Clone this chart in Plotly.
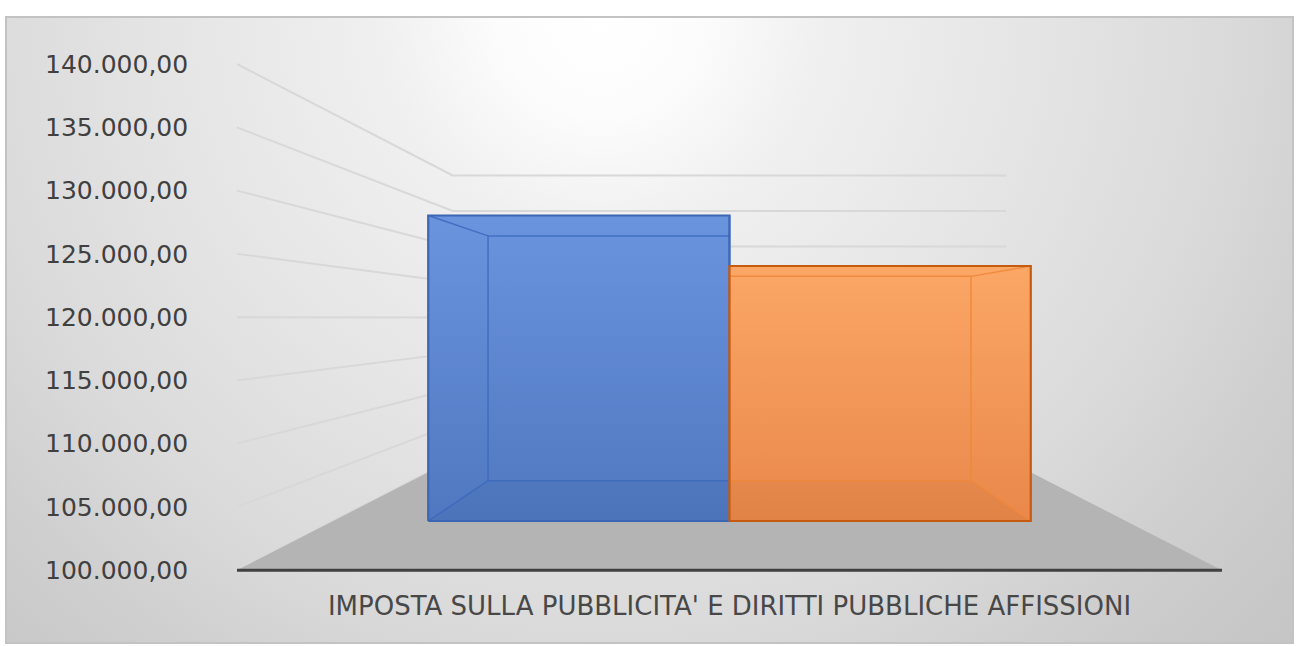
import numpy as np
import plotly.graph_objects as go

# ---------------- data ----------------
category = "IMPOSTA SULLA PUBBLICITA' E DIRITTI PUBBLICHE AFFISSIONI"
series_names = ["Serie 1", "Serie 2"]
series_values = [130000, 125040]
y_ticks = [100000, 105000, 110000, 115000, 120000, 125000, 130000, 135000, 140000]

# ---------------- styles ----------------
face_scales = [
    [[0, "#4f78c1"], [1, "#6a94dd"]],
    [[0, "#e9884a"], [1, "#fba765"]],
]
edge_colors = ["#3b66b4", "#c55a11"]
inner_colors = ["rgba(60,105,190,0.85)", "rgba(240,135,60,0.9)"]

Y_MIN, Y_MAX = y_ticks[0], y_ticks[-1]
VP_X, VP_V = 0.5, 119920.0          # vanishing point (front-plane coords)
BACK_SCALE = 0.562                   # scale of the back wall vs front plane
K = 1.0 / BACK_SCALE - 1.0
GROUP_GAP = 0.12
D_FRONT, D_BACK = 0.311, 0.706


def P(X, d, V):
    s = 1.0 / (1.0 + K * d)
    return VP_X + (X - VP_X) * s, VP_V + (V - VP_V) * s


def poly(points):
    xs = [p[0] for p in points] + [points[0][0]]
    ys = [p[1] for p in points] + [points[0][1]]
    return xs, ys


fig = go.Figure()

# ---------- background (full chart area, own axes) ----------
cx, cy, R = 600, 10, 1000
fig.add_trace(go.Scatter(
    x=[cx - R, cx + R, cx + R, cx - R, cx - R],
    y=[cy - R, cy - R, cy + R, cy + R, cy - R], mode="lines",
    line=dict(width=0), fill="toself",
    fillgradient=dict(type="radial", colorscale=[
        [0, "#ffffff"], [0.1, "#fcfcfc"], [0.215, "#f0f0f0"], [0.45, "#e4e4e4"],
        [0.63, "#dadada"], [0.765, "#cfcfcf"], [0.9, "#c7c7c7"], [1, "#c3c3c3"]]),
    hoverinfo="skip", showlegend=False, xaxis="x", yaxis="y"))

# ---------- walls gridlines ----------
gx, gy = [], []
for v in y_ticks:
    for X, d in [(0, 0), (0, 1), (1, 1)]:
        px, py = P(X, d, v)
        gx.append(px); gy.append(py)
    gx.append(None); gy.append(None)
fig.add_trace(go.Scatter(x=gx, y=gy, mode="lines",
                         line=dict(color="#d8d8d8", width=2),
                         hoverinfo="skip", showlegend=False, xaxis="x2", yaxis="y2"))

# ---------- floor ----------
fx, fy = poly([P(0, 0, Y_MIN), P(1, 0, Y_MIN), P(1, 1, Y_MIN), P(0, 1, Y_MIN)])
fig.add_trace(go.Scatter(x=fx, y=fy, mode="lines", line=dict(width=0),
                         fill="toself", fillcolor="#b4b4b4",
                         hoverinfo="skip", showlegend=False, xaxis="x2", yaxis="y2"))

# ---------- front axis line ----------
a0, a1 = P(0, 0, Y_MIN), P(1, 0, Y_MIN)
fig.add_trace(go.Scatter(x=[a0[0], a1[0]], y=[a0[1], a1[1]], mode="lines",
                         line=dict(color="#404040", width=3),
                         hoverinfo="skip", showlegend=False, xaxis="x2", yaxis="y2"))

# ---------- bars ----------
n = len(series_values)
bw = (1 - 2 * GROUP_GAP) / n
for i, (name, val) in enumerate(zip(series_names, series_values)):
    X0 = GROUP_GAP + i * bw
    X1 = X0 + bw
    front = [P(X0, D_FRONT, Y_MIN), P(X1, D_FRONT, Y_MIN), P(X1, D_FRONT, val), P(X0, D_FRONT, val)]
    back = [P(X0, D_BACK, Y_MIN), P(X1, D_BACK, Y_MIN), P(X1, D_BACK, val), P(X0, D_BACK, val)]
    xs, ys = poly(front)
    fig.add_trace(go.Scatter(x=xs, y=ys, mode="lines", line=dict(width=0),
                             fill="toself",
                             fillgradient=dict(type="vertical", colorscale=face_scales[i]),
                             name=name, hoverinfo="skip", showlegend=False,
                             xaxis="x2", yaxis="y2"))
    xs, ys = poly([front[0], front[1], back[1], back[0]])
    fig.add_trace(go.Scatter(x=xs, y=ys, mode="lines", line=dict(width=0),
                             fill="toself", fillcolor="rgba(0,0,0,0.03)",
                             hoverinfo="skip", showlegend=False, xaxis="x2", yaxis="y2"))
    ex, ey = [], []
    bxs, bys = poly(back)
    ex += bxs + [None]; ey += bys + [None]
    for f, b in zip(front, back):
        ex += [f[0], b[0], None]; ey += [f[1], b[1], None]
    fig.add_trace(go.Scatter(x=ex, y=ey, mode="lines",
                             line=dict(color=inner_colors[i], width=1.5),
                             hoverinfo="skip", showlegend=False, xaxis="x2", yaxis="y2"))
    xs, ys = poly(front)
    fig.add_trace(go.Scatter(x=xs, y=ys, mode="lines",
                             line=dict(color=edge_colors[i], width=2.2),
                             hoverinfo="skip", showlegend=False, xaxis="x2", yaxis="y2"))

# ---------- layout ----------
W, H = 1296, 646
px_per_unit_y = (571 - 57) / (Y_MAX - Y_MIN)
y_pad = 1000
x_pad = 0.01
plot_l, plot_r = 237, 1222
px_per_unit_x = plot_r - plot_l
y_bottom_px = 571 + y_pad * px_per_unit_y
y_top_px = 57 - 500 * px_per_unit_y

fig.update_layout(
    width=W, height=H,
    margin=dict(l=0, r=0, t=0, b=0),
    paper_bgcolor="white",
    plot_bgcolor="rgba(0,0,0,0)",
    separators=",.",
    showlegend=False,
    xaxis=dict(domain=[7 / W, 1292 / W], range=[7, 1292], visible=True,
               showticklabels=False, showgrid=False, zeroline=False, ticks="",
               showline=True, mirror=True, linecolor="#c3c3c3", linewidth=2),
    yaxis=dict(domain=[(H - 644) / H, (H - 10) / H], range=[644, 10],
               showticklabels=False, showgrid=False, zeroline=False, ticks="",
               showline=True, mirror=True, linecolor="#c3c3c3", linewidth=2),
    xaxis2=dict(domain=[(plot_l - x_pad * px_per_unit_x) / W, (plot_r + x_pad * px_per_unit_x) / W],
                range=[-x_pad, 1 + x_pad], anchor="y2",
                showgrid=False, zeroline=False, showline=False, ticks="",
                tickvals=[0.5], ticktext=[category], ticklabelstandoff=5,
                tickfont=dict(family="DejaVu Sans", size=26, color="#484848")),
    yaxis2=dict(domain=[(H - y_bottom_px) / H, (H - y_top_px) / H],
                range=[Y_MIN - y_pad, Y_MAX + 500], anchor="x2",
                showgrid=False, zeroline=False, showline=False, ticks="",
                tickvals=y_ticks, tickformat=",.2f", ticklabelstandoff=38,
                tickfont=dict(family="DejaVu Sans", size=25, color="#404040")),
)

fig.write_html(
    "out.html",
    config={"displayModeBar": False},
    post_script="document.body.style.margin='0';document.body.style.overflow='hidden';",
)
